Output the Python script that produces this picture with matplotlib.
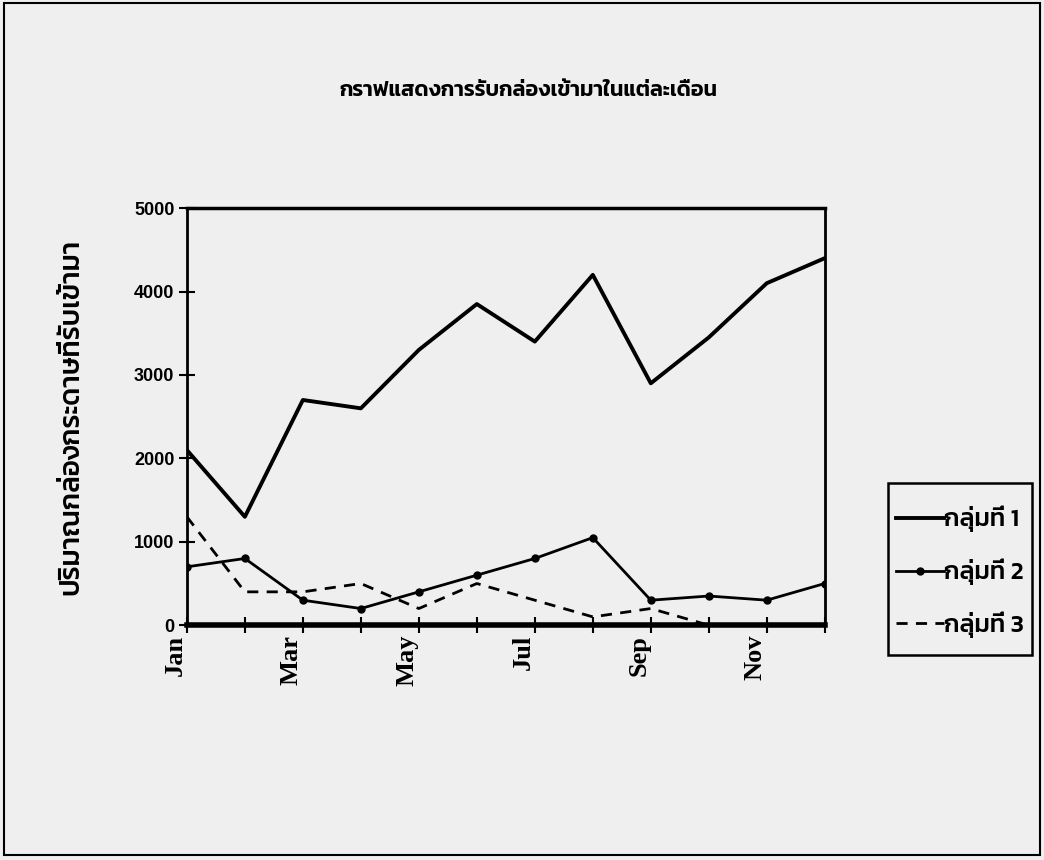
import matplotlib
matplotlib.use('Agg')
import matplotlib.pyplot as plt
from matplotlib.patches import Rectangle

months = ['Jan', 'Feb', 'Mar', 'Apr', 'May', 'Jun',
          'Jul', 'Aug', 'Sep', 'Oct', 'Nov', 'Dec']
group1 = [2100, 1300, 2700, 2600, 3300, 3850, 3400, 4200, 2900, 3450, 4100, 4400]
group2 = [700, 800, 300, 200, 400, 600, 800, 1050, 300, 350, 300, 500]
group3 = [1300, 400, 400, 500, 200, 500, 300, 100, 200, 0, 0, 0]
labels = ['กลุ่มที่ 1', 'กลุ่มที่ 2', 'กลุ่มที่ 3']
title = 'กราฟแสดงการรับกล่องเข้ามาในแต่ละเดือน'
ylabel = 'ปริมาณกล่องกระดาษที่รับเข้ามา'

thai = ['Kanit', 'Noto Sans Thai', 'DejaVu Sans']
bg = '#efefef'
W, H = 1044, 860

fig = plt.figure(figsize=(W / 100, H / 100), dpi=100, facecolor=bg)
ax = fig.add_axes([0.179, 0.273, 0.611, 0.485], facecolor=bg)

x = list(range(len(months)))
ax.plot(x, group1, color='black', lw=2.8, label=labels[0])
ax.plot(x, group2, color='black', lw=2.0, marker='o', ms=5, label=labels[1])
ax.plot(x, group3, color='black', lw=2.0, ls=(0, (4, 3)), label=labels[2])

ax.set_xlim(0, 11)
ax.set_ylim(0, 5000)
ax.set_yticks([0, 1000, 2000, 3000, 4000, 5000])
ax.set_xticks(x)
ax.set_xticklabels([m if i % 2 == 0 else '' for i, m in enumerate(months)],
                   rotation=90, ha='right', va='top',
                   fontfamily='Liberation Serif', fontweight='bold', fontsize=19)
for t in ax.get_yticklabels():
    t.set_fontfamily('Liberation Sans')
    t.set_fontsize(13)
    t.set_fontweight('bold')
ax.tick_params(axis='both', direction='inout', length=12, width=1.5, color='black')
ax.tick_params(axis='x', pad=1)
ax.tick_params(axis='y', pad=3)

for side in ['left', 'right']:
    ax.spines[side].set_linewidth(2)
ax.spines['top'].set_linewidth(2.5)
ax.spines['bottom'].set_linewidth(4)

ax.set_ylabel(ylabel, family=thai, fontsize=20, fontweight='medium')
ax.yaxis.set_label_coords(-0.16, 0.5)
fig.text(0.506, 0.895, title, family=thai, fontsize=15.5, fontweight='semibold',
         ha='center', va='center')

# legend box drawn separately so its size can be set directly
box = (888 / W, 1 - 655 / H, 144 / W, 172 / H)
fig.patches.append(Rectangle(box[:2], box[2], box[3], transform=fig.transFigure,
                             fill=False, edgecolor='black', lw=1.8))
leg = ax.legend(loc='center', bbox_to_anchor=(box[0] + box[2] / 2, 1 - 572 / H),
                bbox_transform=fig.transFigure, frameon=False,
                prop={'family': thai, 'size': 18, 'weight': 'medium'},
                handlelength=1.9, handletextpad=0.0, labelspacing=1.05,
                borderpad=0.2, borderaxespad=0)

# page border
fig.patches.append(Rectangle((0.004, 0.006), 0.992, 0.99, transform=fig.transFigure,
                             fill=False, edgecolor='black', lw=1.5))

fig.savefig('out.png', dpi=100, facecolor=bg)
